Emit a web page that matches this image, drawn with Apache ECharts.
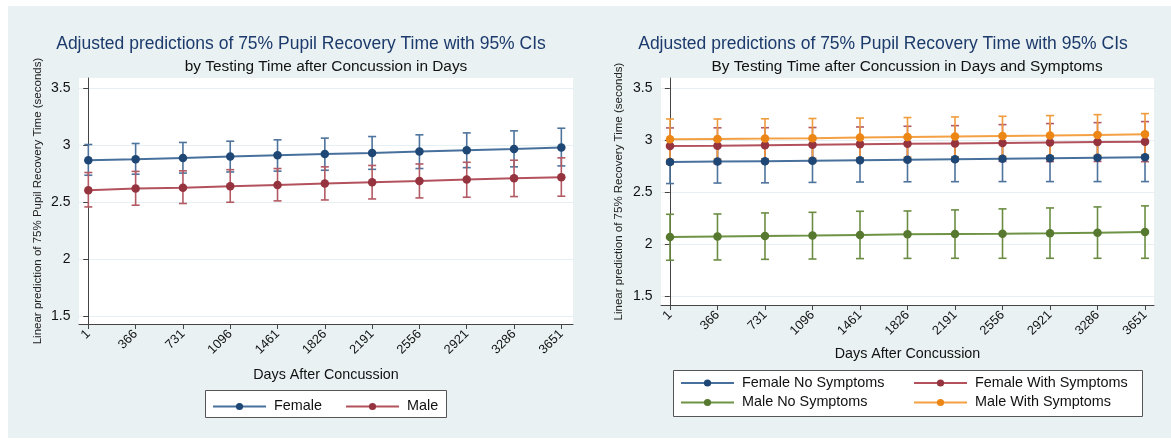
<!DOCTYPE html>
<html>
<head>
<meta charset="utf-8">
<script src="https://cdn.jsdelivr.net/npm/echarts@6/dist/echarts.min.js"></script>
<style>
  html, body { margin: 0; padding: 0; background: #ffffff; }
  #bg { position: absolute; left: 8px; top: 6px; width: 1163px; height: 432px; background: #e9f1f3; }
  #chart { position: absolute; left: 0; top: 0; width: 1171px; height: 440px; }
</style>
</head>
<body>
<div id="bg"></div>
<div id="chart"></div>
<script>
// ---- data ----
const days = [1, 366, 731, 1096, 1461, 1826, 2191, 2556, 2921, 3286, 3651];
const yTicks = [1.5, 2, 2.5, 3, 3.5];

// left panel: by sex
const femaleMean = [2.868, 2.877, 2.888, 2.900, 2.912, 2.923, 2.932, 2.944, 2.956, 2.967, 2.979];
const femaleLo   = [2.736, 2.745, 2.755, 2.765, 2.772, 2.780, 2.788, 2.795, 2.803, 2.810, 2.818];
const femaleHi   = [3.006, 3.015, 3.024, 3.035, 3.047, 3.062, 3.076, 3.091, 3.108, 3.126, 3.149];
const maleMean   = [2.605, 2.619, 2.627, 2.639, 2.651, 2.663, 2.675, 2.686, 2.699, 2.710, 2.719];
const maleLo     = [2.458, 2.473, 2.488, 2.499, 2.511, 2.519, 2.528, 2.537, 2.543, 2.549, 2.552];
const maleHi     = [2.760, 2.770, 2.775, 2.785, 2.795, 2.810, 2.822, 2.835, 2.850, 2.868, 2.889];

// right panel: by sex and symptoms
const fnsMean = [2.791, 2.795, 2.799, 2.803, 2.808, 2.812, 2.817, 2.821, 2.826, 2.831, 2.836];
const fnsLo   = [2.583, 2.588, 2.590, 2.594, 2.598, 2.600, 2.601, 2.602, 2.602, 2.602, 2.602];
const fnsHi   = [2.999, 3.002, 3.008, 3.012, 3.018, 3.024, 3.033, 3.040, 3.050, 3.060, 3.070];
const fwsMean = [2.945, 2.948, 2.952, 2.957, 2.962, 2.966, 2.970, 2.974, 2.978, 2.983, 2.987];
const fwsLo   = [2.771, 2.776, 2.783, 2.791, 2.796, 2.797, 2.799, 2.797, 2.795, 2.796, 2.794];
const fwsHi   = [3.119, 3.120, 3.121, 3.123, 3.128, 3.135, 3.141, 3.151, 3.161, 3.170, 3.180];
const mnsMean = [2.069, 2.073, 2.077, 2.082, 2.088, 2.094, 2.097, 2.100, 2.104, 2.110, 2.117];
const mnsLo   = [1.844, 1.847, 1.853, 1.856, 1.860, 1.862, 1.863, 1.863, 1.863, 1.863, 1.863];
const mnsHi   = [2.287, 2.290, 2.300, 2.306, 2.316, 2.319, 2.329, 2.339, 2.348, 2.358, 2.368];
const mwsMean = [3.010, 3.013, 3.016, 3.020, 3.026, 3.032, 3.036, 3.041, 3.046, 3.052, 3.058];
const mwsLo   = [2.815, 2.818, 2.821, 2.826, 2.831, 2.837, 2.841, 2.845, 2.849, 2.854, 2.859];
const mwsHi   = [3.205, 3.205, 3.207, 3.210, 3.214, 3.219, 3.225, 3.231, 3.238, 3.247, 3.257];

const mainTitle = 'Adjusted predictions of 75% Pupil Recovery Time with 95% CIs';
const subLeft = 'by Testing Time after Concussion in Days';
const subRight = 'By Testing Time after Concussion in Days and Symptoms';
const xTitle = 'Days After Concussion';
const yTitleLeft = 'Linear prediction of 75% Pupil Recovery Time (seconds)';
const yTitleRight = 'Linear prediction of 75% Recovery Time (seconds)';

// ---- styles ----
const FONT = 'Liberation Sans, Arial, Helvetica, sans-serif';
const C = {
  navy:   { mk: '#1e4775', ln: '#47709c', ci: '#4e739c' },
  maroon: { mk: '#95333e', ln: '#b3525d', ci: '#b35a64' },
  green:  { mk: '#56782f', ln: '#6f9345', ci: '#6b8d43' },
  orange: { mk: '#ec8614', ln: '#f4a043', ci: '#f09c3c' }
};

function pairs(ys) { return days.map((d, i) => [d, ys[i]]); }
function triples(lo, hi) { return days.map((d, i) => [d, lo[i], hi[i]]); }

function ciSeries(name, lo, hi, color, idx) {
  return {
    type: 'custom', name: name, xAxisIndex: idx, yAxisIndex: idx,
    data: triples(lo, hi), encode: { x: 0, y: [1, 2] }, silent: true,
    renderItem: function (params, api) {
      const x = api.value(0);
      const a = api.coord([x, api.value(1)]);
      const b = api.coord([x, api.value(2)]);
      const w = 4;
      const st = { stroke: color, lineWidth: 1.6 };
      return { type: 'group', children: [
        { type: 'line', shape: { x1: a[0], y1: a[1], x2: b[0], y2: b[1] }, style: st },
        { type: 'line', shape: { x1: a[0] - w, y1: a[1], x2: a[0] + w, y2: a[1] }, style: st },
        { type: 'line', shape: { x1: b[0] - w, y1: b[1], x2: b[0] + w, y2: b[1] }, style: st }
      ] };
    }
  };
}
function lineSeries(name, ys, col, idx) {
  return {
    type: 'line', name: name, xAxisIndex: idx, yAxisIndex: idx,
    data: pairs(ys), symbol: 'circle', symbolSize: 8.5,
    lineStyle: { color: col.ln, width: 2 },
    itemStyle: { color: col.mk },
    emphasis: { disabled: true }, animation: false
  };
}

function xAxisDef(idx, min, max) {
  return {
    type: 'value', gridIndex: idx, min: min, max: max,
    name: xTitle, nameLocation: 'middle', nameGap: idx === 0 ? 44 : 42,
    nameTextStyle: { fontFamily: FONT, fontSize: 14.3, color: '#111' },
    axisLine: { show: true, lineStyle: { color: '#444', width: 1 } },
    axisTick: { show: true, length: 5, customValues: days, lineStyle: { color: '#444' } },
    axisLabel: { customValues: days, rotate: 45, margin: 8, fontFamily: FONT, fontSize: 12.8, color: '#111',
                 formatter: function (v) { return String(Math.round(v)); } },
    splitLine: { show: false }
  };
}
function yAxisDef(idx, min, max, name, gap) {
  return {
    type: 'value', gridIndex: idx, min: min, max: max,
    name: name, nameLocation: 'middle', nameRotate: 90, nameGap: gap,
    nameTextStyle: { fontFamily: FONT, fontSize: 11.5, color: '#222' },
    axisLine: { show: true, lineStyle: { color: '#444', width: 1 } },
    axisTick: { show: true, length: 5, customValues: yTicks, lineStyle: { color: '#444' } },
    axisLabel: { customValues: yTicks, margin: 8.5, fontFamily: FONT, fontSize: 14, color: '#111',
                 formatter: function (v) { return String(v); } },
    splitLine: { show: true, lineStyle: { color: '#e6eff2', width: 1.2 } }
  };
}

function legendItem(name, left, top) {
  return {
    data: [name], left: left, top: top, padding: 0, orient: 'horizontal',
    itemWidth: 53, itemHeight: 9, selectedMode: false,
    textStyle: { fontFamily: FONT, fontSize: 14.4, color: '#111', padding: [0, 0, 0, 3] }
  };
}

function textG(text, x, y, size, color) {
  return { type: 'text', x: x, y: y, silent: true, z: 10,
    style: { text: text, align: 'center', verticalAlign: 'middle', fill: color,
             font: size + 'px ' + FONT } };
}

const option = {
  backgroundColor: 'transparent',
  animation: false,
  grid: [
    { left: 79, top: 78, width: 494, height: 246, show: true, backgroundColor: '#ffffff', borderWidth: 0, outerBoundsMode: 'none' },
    { left: 661, top: 78, width: 493, height: 227, show: true, backgroundColor: '#ffffff', borderWidth: 0, outerBoundsMode: 'none' }
  ],
  xAxis: [ xAxisDef(0, -71, 3741), xAxisDef(1, -68, 3720) ],
  yAxis: [ yAxisDef(0, 1.43, 3.59, yTitleLeft, 35), yAxisDef(1, 1.413, 3.6, yTitleRight, 36) ],
  legend: [
    legendItem('Female', 212, 399.5),
    legendItem('Male', 345, 399.5),
    legendItem('Female No Symptoms', 680, 376),
    legendItem('Male No Symptoms', 680, 395.5),
    legendItem('Female With Symptoms', 913, 376),
    legendItem('Male With Symptoms', 913, 395.5)
  ],
  graphic: [
    { type: 'rect', shape: { x: 205.5, y: 390.5, width: 241, height: 27 }, z: 1, silent: true,
      style: { fill: '#ffffff', stroke: '#555555', lineWidth: 1 } },
    { type: 'rect', shape: { x: 673.5, y: 370.5, width: 469, height: 46 }, z: 1, silent: true,
      style: { fill: '#ffffff', stroke: '#555555', lineWidth: 1 } },
    textG(mainTitle, 301, 44, 17.5, '#1c3a6b'),
    textG(subLeft, 326, 66.4, 15.4, '#111'),
    textG(mainTitle, 883, 44, 17.5, '#1c3a6b'),
    textG(subRight, 907, 66.4, 15.4, '#111')
  ],
  series: [
    ciSeries('Female CI', femaleLo, femaleHi, C.navy.ci, 0),
    ciSeries('Male CI', maleLo, maleHi, C.maroon.ci, 0),
    lineSeries('Female', femaleMean, C.navy, 0),
    lineSeries('Male', maleMean, C.maroon, 0),

    ciSeries('FNS CI', fnsLo, fnsHi, C.navy.ci, 1),
    ciSeries('FWS CI', fwsLo, fwsHi, C.maroon.ci, 1),
    ciSeries('MNS CI', mnsLo, mnsHi, C.green.ci, 1),
    ciSeries('MWS CI', mwsLo, mwsHi, C.orange.ci, 1),
    lineSeries('Female No Symptoms', fnsMean, C.navy, 1),
    lineSeries('Female With Symptoms', fwsMean, C.maroon, 1),
    lineSeries('Male No Symptoms', mnsMean, C.green, 1),
    lineSeries('Male With Symptoms', mwsMean, C.orange, 1)
  ]
};

const chart = echarts.init(document.getElementById('chart'), null, { renderer: 'canvas' });
chart.setOption(option);
</script>
</body>
</html>
